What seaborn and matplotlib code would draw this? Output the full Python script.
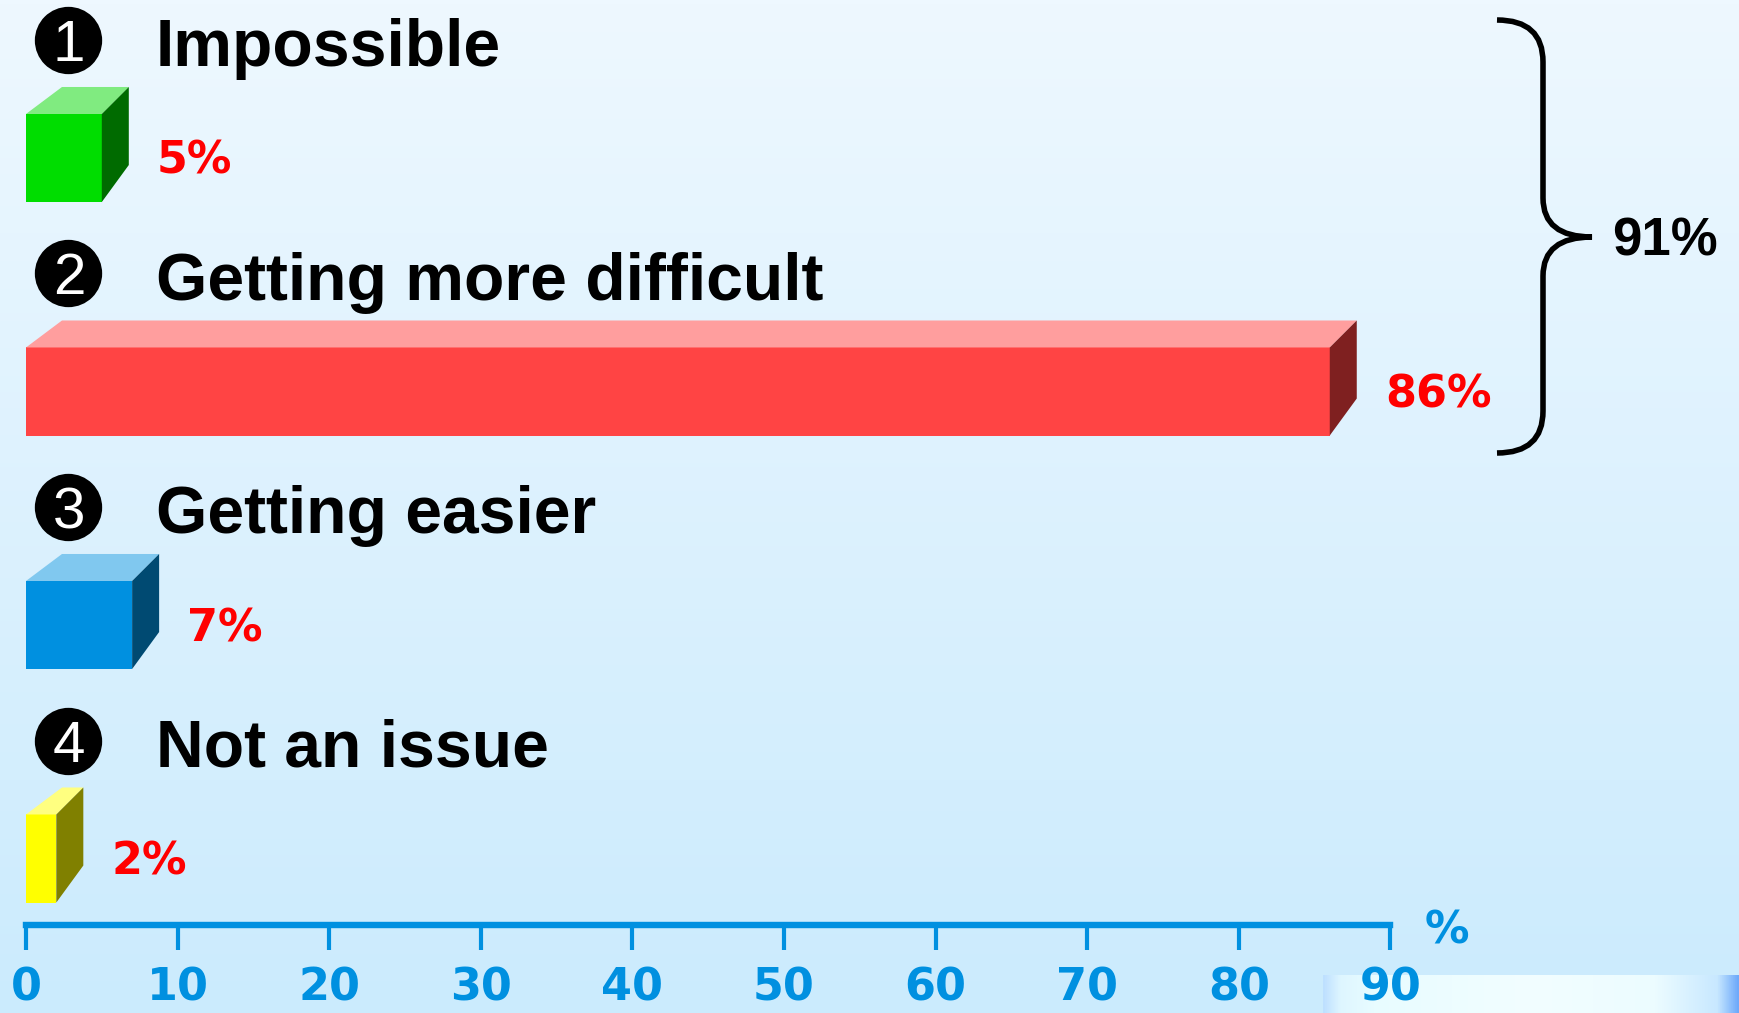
import numpy as np
import pandas as pd
import matplotlib
matplotlib.use("Agg")
import matplotlib.pyplot as plt
import seaborn as sns
from matplotlib.patches import Polygon, PathPatch
from matplotlib.path import Path

# survey answers and shares (%)
categories = ["Impossible", "Getting more difficult", "Getting easier", "Not an issue"]
shares = [5, 86, 7, 2]
badges = ["1", "2", "3", "4"]
bracket_total = "91%"
tick_values = list(range(0, 100, 10))

# box colours: front / top / side
front_colors = ["#00dd00", "#ff4444", "#0090e0", "#ffff00"]
top_colors = ["#80eb80", "#ff9e9e", "#80c8ef", "#ffff80"]
side_colors = ["#006b00", "#7f2020", "#004a72", "#808000"]
axis_blue = "#0090e0"

W, H = 1739, 1013
sns.set_theme(style="white")
plt.rcParams["font.family"] = ["Liberation Sans", "DejaVu Sans"]

fig = plt.figure(figsize=(W / 100, H / 100), dpi=100)

# background gradient (pixel coords)
bg = fig.add_axes([0, 0, 1, 1], zorder=0)
g = np.linspace(0, 1, 256)[:, None, None]
c_top = np.array([238, 248, 255]) / 255
c_bot = np.array([203, 235, 253]) / 255
bg.imshow(c_top * (1 - g) + c_bot * g, extent=(0, W, H, 0), aspect="auto")
# bit of sky picture peeking in the bottom right corner
xs = np.linspace(0, 1, 200)
stops = [0, 0.04, 0.12, 0.5, 0.8, 0.95, 1]
strip = np.stack([np.interp(xs, stops, [190, 222, 232, 242, 236, 200, 110]),
                  np.interp(xs, stops, [224, 246, 252, 254, 252, 232, 170]),
                  np.interp(xs, stops, [255, 255, 255, 255, 255, 255, 250])], axis=-1)[None] / 255
bg.imshow(strip, extent=(1323, W, H, 975), aspect="auto")
bg.set_xlim(0, W)
bg.set_ylim(H, 0)
bg.axis("off")

# bars
ax = fig.add_axes([0, 0, 1, 1], zorder=1)
ax.patch.set_alpha(0)
df = pd.DataFrame({"answer": categories, "share": shares})
sns.barplot(data=df, x="share", y="answer", hue="answer", palette=front_colors,
            orient="h", width=0.377, saturation=1, linewidth=0, legend=False, ax=ax)
ax.set_xlim(-26 / 15.16, (W - 26) / 15.16)
ax.set_ylim((H - 158) / 233.5, -158 / 233.5)

for s in ["top", "left", "right"]:
    ax.spines[s].set_visible(False)
sp = ax.spines["bottom"]
sp.set_position(("data", (925 - 158) / 233.5))
sp.set_bounds(0, 90)
sp.set_color(axis_blue)
sp.set_linewidth(4.6)
ax.set_xticks(tick_values)
ax.set_yticks([])
ax.tick_params(axis="x", bottom=True, direction="out", length=18, width=3,
               color=axis_blue, labelcolor=axis_blue, labelsize=32, pad=12)
for lab in ax.get_xticklabels():
    lab.set_fontfamily("DejaVu Sans")
    lab.set_fontweight("bold")
ax.set_xlabel("")
ax.set_ylabel("")

# overlay in pixel coords for the 3d faces and text
ov = fig.add_axes([0, 0, 1, 1], zorder=2)
ov.set_xlim(0, W)
ov.set_ylim(H, 0)
ov.axis("off")


def to_px(x, y):
    return ov.transData.inverted().transform(ax.transData.transform((x, y)))


bars = sorted(ax.patches, key=lambda p: p.get_y())
for i, bar in enumerate(bars):
    x0, yt = to_px(bar.get_x(), bar.get_y())
    x1, yb = to_px(bar.get_x() + bar.get_width(), bar.get_y() + bar.get_height())
    ov.add_patch(Polygon([(x0, yt), (x0 + 36, yt - 27), (x1 + 27, yt - 27), (x1, yt)],
                         closed=True, facecolor=top_colors[i], lw=0))
    ov.add_patch(Polygon([(x1, yt), (x1 + 27, yt - 27), (x1 + 27, yb - 37), (x1, yb)],
                         closed=True, facecolor=side_colors[i], lw=0))
    yc = (yt + yb) / 2
    ov.text(x1 + 55, yc + 16, f"{shares[i]}%", color="#ff0000", fontsize=32,
            family="DejaVu Sans", fontweight="bold", va="baseline", ha="left")
    # numbered badge + answer text
    ov.scatter([68], [yc - 118], s=2350, color="black", lw=0)
    ov.text(69, yc - 118 + 21, badges[i], color="white", fontsize=42,
            ha="center", va="baseline")
    ov.text(156, yc - 92, categories[i], color="black", fontsize=47.5,
            fontweight="bold", ha="left", va="baseline")

# curly brace grouping first two answers
verts = [(1497, 20), (1543, 20), (1543, 62), (1543, 198), (1543, 237), (1592, 237),
         (1543, 237), (1543, 276), (1543, 411), (1543, 453), (1497, 453)]
codes = [Path.MOVETO, Path.CURVE3, Path.CURVE3, Path.LINETO, Path.CURVE3, Path.CURVE3,
         Path.CURVE3, Path.CURVE3, Path.LINETO, Path.CURVE3, Path.CURVE3]
ov.add_patch(PathPatch(Path(verts, codes), facecolor="none", edgecolor="black",
                       lw=4, capstyle="butt"))
ov.text(1612, 255, bracket_total, fontsize=38, fontweight="bold", color="black",
        ha="left", va="baseline")

ov.text(1447, 943, "%", fontsize=32, family="DejaVu Sans", fontweight="bold",
        color=axis_blue, ha="center", va="baseline")

fig.savefig("out.png", dpi=100)
